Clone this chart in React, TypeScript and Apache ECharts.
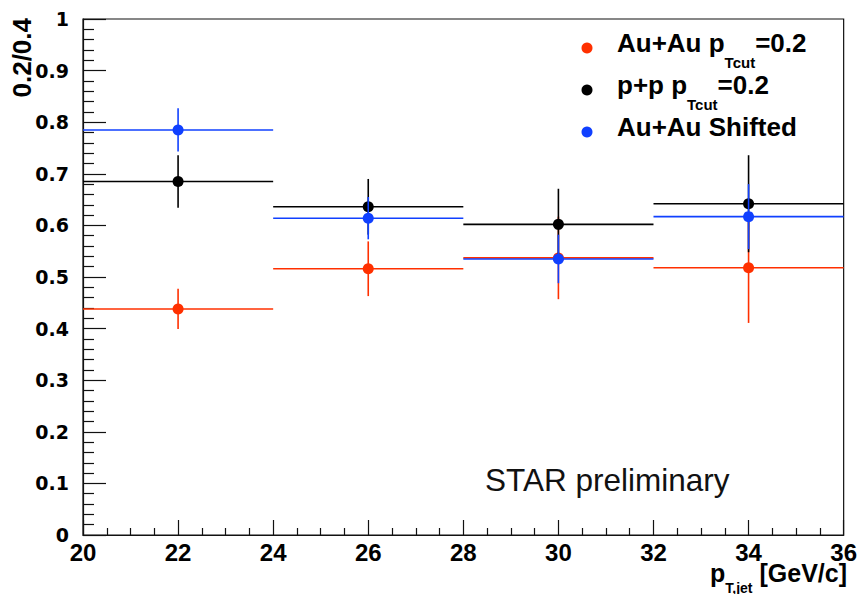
import React, { useEffect, useRef } from 'react';
import * as echarts from 'echarts';

// Bin centres (pT,jet in GeV/c) and half bin width
const binCenters = [22, 26, 30, 34];
const binHalfWidth = 2;

// Ratio 0.2/0.4 values and statistical errors
const auauValues = [0.438, 0.516, 0.537, 0.518];
const auauErrors = [0.039, 0.053, 0.08, 0.107];
const ppValues = [0.685, 0.636, 0.602, 0.642];
const ppErrors = [0.051, 0.054, 0.069, 0.094];
const shiftedValues = [0.785, 0.614, 0.535, 0.617];
const shiftedErrors = [0.042, 0.041, 0.047, 0.063];

const seriesNames = ['Au+Au pTcut=0.2', 'p+p pTcut=0.2', 'Au+Au Shifted'];
const seriesColors = ['#ff3000', '#000000', '#1040ff'];

const xMin = 20;
const xMax = 36;
const xInterval = 2;
const yMin = 0;
const yMax = 1;
const yInterval = 0.1;

const FONT = '"Liberation Sans", Arial, Helvetica, sans-serif';

function makeSeries(name: string, color: string, values: number[], errors: number[]) {
  return {
    type: 'custom',
    name,
    itemStyle: { color },
    encode: { x: 0, y: 1 },
    data: binCenters.map((x, i) => [x, values[i], errors[i], binHalfWidth]),
    renderItem: (params: any, api: any) => {
      const x = api.value(0);
      const y = api.value(1);
      const e = api.value(2);
      const hw = api.value(3);
      const l = api.coord([x - hw, y]);
      const r = api.coord([x + hw, y]);
      const t = api.coord([x, y + e]);
      const b = api.coord([x, y - e]);
      const c = api.coord([x, y]);
      return {
        type: 'group',
        children: [
          { type: 'line', shape: { x1: l[0], y1: l[1], x2: r[0], y2: r[1] }, style: { stroke: color, lineWidth: 1.6 } },
          { type: 'line', shape: { x1: t[0], y1: t[1], x2: b[0], y2: b[1] }, style: { stroke: color, lineWidth: 1.6 } },
          { type: 'circle', shape: { cx: c[0], cy: c[1], r: 5.5 }, style: { fill: color } },
        ],
      };
    },
  };
}

// legend label as rich text with subscript
function legendRich(name: string) {
  if (name.indexOf('pTcut') >= 0) {
    const parts = name.split('pTcut');
    return '{m|' + parts[0] + 'p}{s|Tcut}{m|' + parts[1] + '}';
  }
  return '{m|' + name + '}';
}

const legendRowCenters = [43, 85, 127];
const LEG_LH = 54;

export default function App() {
  const ref = useRef<HTMLDivElement>(null);

  useEffect(() => {
    if (!ref.current) return;
    const chart = echarts.init(ref.current, undefined, { renderer: 'svg' });

    const legendGraphics: any[] = [];
    seriesNames.forEach((n, i) => {
      const cy = legendRowCenters[i];
      legendGraphics.push({
        type: 'circle',
        shape: { cx: 587, cy: cy + 5, r: 5.5 },
        style: { fill: seriesColors[i] },
      });
      legendGraphics.push({
        type: 'text',
        x: 617,
        y: cy - LEG_LH / 2,
        style: {
          text: legendRich(n),
          align: 'left',
          verticalAlign: 'top',
          rich: {
            m: { fontFamily: FONT, fontWeight: 'bold', fontSize: 26, lineHeight: LEG_LH, fill: '#000' },
            s: { fontFamily: FONT, fontWeight: 'bold', fontSize: 15, lineHeight: 15, verticalAlign: 'bottom', fill: '#000' },
          },
        },
      });
    });

    const option: any = {
      animation: false,
      backgroundColor: '#ffffff',
      grid: {
        left: 83,
        right: 15,
        top: 19,
        bottom: 59,
        show: true,
        borderColor: '#111',
        borderWidth: 1.2,
        backgroundColor: 'transparent',
      },
      xAxis: {
        type: 'value',
        min: xMin,
        max: xMax,
        interval: xInterval,
        axisLine: { show: true, lineStyle: { color: '#111', width: 1.2 } },
        axisTick: { show: true, inside: true, length: 15, lineStyle: { color: '#111', width: 1.2 } },
        minorTick: { show: true, splitNumber: 4, length: 7, lineStyle: { color: '#111', width: 1.2 } },
        splitLine: { show: false },
        axisLabel: {
          margin: 5,
          fontFamily: FONT,
          fontWeight: 'bold',
          fontSize: 24,
          color: '#000',
        },
      },
      yAxis: {
        type: 'value',
        min: yMin,
        max: yMax,
        interval: yInterval,
        axisLine: { show: true, lineStyle: { color: '#111', width: 1.2 } },
        axisTick: { show: true, inside: true, length: 23, lineStyle: { color: '#111', width: 1.2 } },
        minorTick: { show: true, splitNumber: 5, length: 11, lineStyle: { color: '#111', width: 1.2 } },
        splitLine: { show: false },
        axisLabel: {
          margin: 14,
          fontFamily: '"DejaVu Sans", sans-serif',
          fontWeight: 'bold',
          fontSize: 19,
          color: '#000',
        },
      },
      graphic: [
        {
          type: 'text',
          x: 22,
          y: 18,
          rotation: Math.PI / 2,
          style: {
            text: '0.2/0.4',
            fontFamily: FONT,
            fontWeight: 'bold',
            fontSize: 26,
            fill: '#000',
            align: 'right',
            verticalAlign: 'middle',
          },
        },
        {
          type: 'text',
          x: 847,
          y: 551,
          style: {
            text: '{m|p}{s|T,jet}{m| [GeV/c]}',
            align: 'right',
            verticalAlign: 'top',
            rich: {
              m: { fontFamily: FONT, fontWeight: 'bold', fontSize: 25, lineHeight: 44, fill: '#000' },
              s: { fontFamily: FONT, fontWeight: 'bold', fontSize: 14, lineHeight: 14, verticalAlign: 'bottom', fill: '#000' },
            },
          },
        },
        {
          type: 'text',
          x: 485,
          y: 480,
          style: {
            text: 'STAR preliminary',
            fontFamily: FONT,
            fontSize: 31.5,
            fill: '#111',
            align: 'left',
            verticalAlign: 'middle',
          },
        },
        ...legendGraphics,
      ],
      series: [
        makeSeries(seriesNames[0], seriesColors[0], auauValues, auauErrors),
        makeSeries(seriesNames[1], seriesColors[1], ppValues, ppErrors),
        makeSeries(seriesNames[2], seriesColors[2], shiftedValues, shiftedErrors),
      ],
    };
    chart.setOption(option);
    return () => {
      chart.dispose();
    };
  }, []);

  return (
    <div
      ref={ref}
      style={{ position: 'fixed', left: 0, top: 0, width: 860, height: 594, background: '#fff' }}
    />
  );
}
